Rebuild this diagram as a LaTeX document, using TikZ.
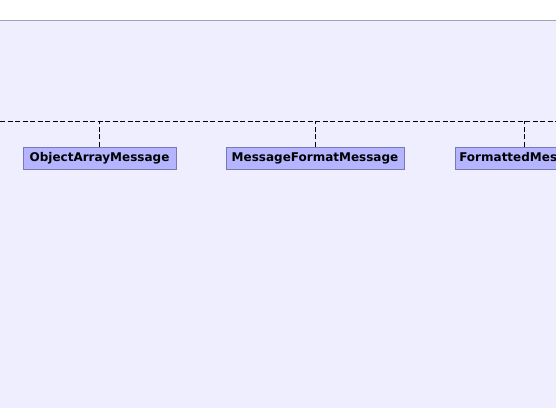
\documentclass[tikz,border=0pt]{standalone}
\usepackage{fontspec}
\setmainfont{DejaVu Sans}
\usetikzlibrary{positioning}
\definecolor{pkgback}{RGB}{238,238,255}
\definecolor{pkgline}{RGB}{160,160,184}
\definecolor{classfill}{RGB}{180,180,255}
\definecolor{classline}{RGB}{120,120,180}
\tikzset{
  classbox/.style={draw=classline,fill=classfill,minimum height=22pt,inner sep=0pt,
    font=\fontsize{12}{13}\selectfont\bfseries},
  realize/.style={dashed,dash pattern=on 5pt off 2.5pt,line width=0.8pt}
}
\begin{document}
\begin{tikzpicture}[x=1pt,y=-1pt]
  \useasboundingbox (0,0) rectangle (556,408);
  \begin{scope}
  \clip (0,0) rectangle (556,408);
  \fill[white] (0,0) rectangle (556,408);
  \fill[pkgback] (0,20) rectangle (556,408);
  \draw[pkgline] (0,20) -- (556,20);
  \coordinate (busl) at (0,121);
  \coordinate (busr) at (556,121);
  \draw[realize] (busl) -- (busr);
  \node[classbox,minimum width=153pt] (objarr) at (99.5,158) {\raisebox{-1pt}{ObjectArrayMessage}};
  \node[classbox,minimum width=178pt] (msgfmt) at (315,158) {\raisebox{-1pt}{MessageFormatMessage}};
  \node[classbox,minimum width=138pt,anchor=west] (fmtmsg) at (455,158) {\raisebox{-1pt}{FormattedMessage}};
  \coordinate (objarrtop) at (objarr.north |- busl);
  \coordinate (msgfmttop) at (msgfmt.north |- busl);
  \coordinate (fmtmsgtop) at (524,121);
  \draw[realize] (objarr.north) -- (objarrtop);
  \draw[realize] (msgfmt.north) -- (msgfmttop);
  \draw[realize] (fmtmsg.north -| fmtmsgtop) -- (fmtmsgtop);
  \end{scope}
\end{tikzpicture}
\end{document}
